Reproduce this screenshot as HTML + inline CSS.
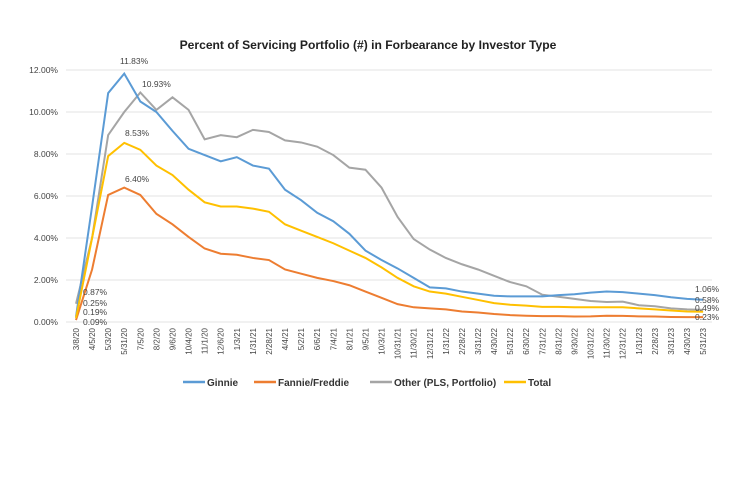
<!DOCTYPE html>
<html><head><meta charset="utf-8"><style>
body{margin:0;background:#fff;width:750px;height:473px;overflow:hidden}
svg{font-family:"Liberation Sans",sans-serif}
</style></head><body>
<svg id="s" width="750" height="473" xmlns="http://www.w3.org/2000/svg">
<text x="368" y="49" text-anchor="middle" font-size="12.1" font-weight="bold" fill="#222">Percent of Servicing Portfolio (#) in Forbearance by Investor Type</text>
<g stroke="#e3e3e3" stroke-width="1">
<line x1="66" x2="712" y1="322" y2="322"/><line x1="66" x2="712" y1="280" y2="280"/><line x1="66" x2="712" y1="238" y2="238"/><line x1="66" x2="712" y1="196" y2="196"/><line x1="66" x2="712" y1="154" y2="154"/><line x1="66" x2="712" y1="112" y2="112"/><line x1="66" x2="712" y1="70" y2="70"/>
</g>
<g font-size="8.5" fill="#444" text-anchor="end">
<text x="58" y="325">0.00%</text><text x="58" y="283">2.00%</text><text x="58" y="241">4.00%</text><text x="58" y="199">6.00%</text><text x="58" y="157">8.00%</text><text x="58" y="115">10.00%</text><text x="58" y="73">12.00%</text>
</g>
<g id="xl" font-size="8" fill="#444" text-anchor="end"></g>
<g id="lines" fill="none" stroke-width="2"></g>
<g font-size="8.5" fill="#444">
<text x="120" y="64">11.83%</text><text x="142" y="87">10.93%</text><text x="125" y="136">8.53%</text><text x="125" y="182">6.40%</text>
<text x="83" y="295">0.87%</text><text x="83" y="306">0.25%</text><text x="83" y="315">0.19%</text><text x="83" y="325">0.09%</text>
<text x="695" y="292">1.06%</text><text x="695" y="303">0.58%</text><text x="695" y="311">0.49%</text><text x="695" y="320">0.23%</text>
</g>
<g font-size="10" font-weight="bold" fill="#333">
<line x1="183" x2="205" y1="382" y2="382" stroke="#5b9bd5" stroke-width="2.5"/><text x="207" y="386">Ginnie</text>
<line x1="254" x2="276" y1="382" y2="382" stroke="#ed7d31" stroke-width="2.5"/><text x="278" y="386">Fannie/Freddie</text>
<line x1="370" x2="392" y1="382" y2="382" stroke="#a5a5a5" stroke-width="2.5"/><text x="394" y="386">Other (PLS, Portfolio)</text>
<line x1="504" x2="526" y1="382" y2="382" stroke="#ffc000" stroke-width="2.5"/><text x="528" y="386">Total</text>
</g>
</svg>
<script>
var L="3/8/20 4/5/20 5/3/20 5/31/20 7/5/20 8/2/20 9/6/20 10/4/20 11/1/20 12/6/20 1/3/21 1/31/21 2/28/21 4/4/21 5/2/21 6/6/21 7/4/21 8/1/21 9/5/21 10/3/21 10/31/21 11/30/21 12/31/21 1/31/22 2/28/22 3/31/22 4/30/22 5/31/22 6/30/22 7/31/22 8/31/22 9/30/22 10/31/22 11/30/22 12/31/22 1/31/23 2/28/23 3/31/23 4/30/23 5/31/23".split(" ");
function X(i){return 76+16.08*i}function Y(v){return 322-21*v}
var ns="http://www.w3.org/2000/svg",xl=document.getElementById("xl");
L.forEach(function(t,i){var e=document.createElementNS(ns,"text");e.setAttribute("transform","translate("+(X(i)+3)+",328) rotate(-90)");e.textContent=t;xl.appendChild(e)});
var D={
"#a5a5a5":[0.87,4.0,8.9,10.0,10.93,10.1,10.7,10.1,8.7,8.9,8.8,9.15,9.05,8.65,8.55,8.35,7.95,7.35,7.25,6.4,5.0,3.95,3.45,3.05,2.75,2.5,2.2,1.9,1.7,1.3,1.2,1.1,1.0,0.95,0.97,0.8,0.75,0.65,0.6,0.58],
"#5b9bd5":[0.25,5.5,10.9,11.83,10.5,10.0,9.1,8.25,7.95,7.65,7.85,7.45,7.3,6.3,5.8,5.2,4.8,4.2,3.4,2.95,2.55,2.1,1.65,1.6,1.45,1.35,1.25,1.22,1.22,1.22,1.28,1.32,1.4,1.45,1.42,1.35,1.28,1.18,1.1,1.06],
"#ed7d31":[0.09,2.5,6.05,6.4,6.05,5.15,4.65,4.05,3.5,3.25,3.2,3.05,2.95,2.5,2.3,2.1,1.95,1.75,1.45,1.15,0.85,0.7,0.65,0.6,0.5,0.45,0.38,0.33,0.3,0.28,0.28,0.26,0.27,0.3,0.29,0.27,0.26,0.24,0.23,0.23],
"#ffc000":[0.19,4.0,7.9,8.53,8.2,7.45,7.0,6.3,5.7,5.5,5.5,5.4,5.25,4.65,4.35,4.05,3.75,3.4,3.05,2.6,2.1,1.7,1.45,1.35,1.2,1.05,0.9,0.82,0.78,0.72,0.72,0.7,0.7,0.7,0.7,0.65,0.6,0.55,0.5,0.49]};
var g=document.getElementById("lines");
for(var c in D){var p=document.createElementNS(ns,"polyline");p.setAttribute("stroke",c);p.setAttribute("points",D[c].map(function(v,i){return X(i)+","+Y(v)}).join(" "));g.appendChild(p)}
</script>
</body></html>
